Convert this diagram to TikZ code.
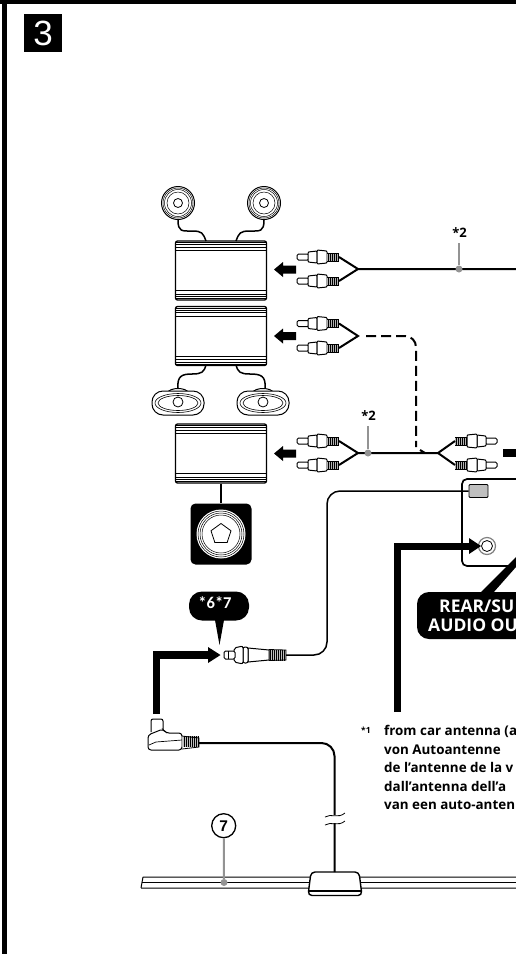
\documentclass[tikz,border=0pt]{standalone}
\usepackage{fontspec}
\setmainfont{Open Sans}
\newfontfamily\badgefont{Liberation Sans}
\newfontfamily\calloutfont{Carlito}
\usepackage{tikz}
\usetikzlibrary{calc, positioning, shapes}
\tikzstyle{cable}=[line width=2pt]
\tikzstyle{thin cable}=[line width=1.5pt]
\tikzstyle{leader}=[gray!85,line width=2pt]
\tikzstyle{leader dot}=[circle,fill=gray!85,minimum size=7pt,inner sep=0pt]
\tikzstyle{amp}=[draw,line width=1.3pt,rounded corners=2pt,fill=white,minimum width=91pt,minimum height=59pt,inner sep=0pt]
\tikzstyle{stripe}=[line width=0.5pt]
\tikzstyle{ring}=[circle,draw,line width=0.5pt,inner sep=0pt]
\tikzstyle{part}=[draw,line width=1pt,fill=white]
\tikzstyle{rib}=[line width=0.4pt]
\tikzstyle{note}=[anchor=base west,font=\fontsize{13.4}{15}\selectfont\bfseries,inner sep=0pt]
\tikzstyle{rear note}=[anchor=base west,text=white,font=\fontsize{17.5}{19}\selectfont\bfseries,inner sep=0pt]
\tikzstyle{cable note}=[font=\fontsize{13}{14}\selectfont\bfseries,inner sep=0pt]
\tikzstyle{big arrow}=[line width=7.5pt]

% one amplifier box with its stripes
\newcommand{\ampbox}[2]{
	\node[amp] (#1) at (#2) {};
	\foreach \off in {2,4.3,6.7,10.3} {
		\draw[stripe] ($(#1.north west)+(0,\off)$) -- ($(#1.north east)+(0,\off)$);
		\draw[stripe] ($(#1.south west)+(0,-\off)$) -- ($(#1.south east)+(0,-\off)$);
	}
}

% one cinch plug, pin at the given point; #3 is 1 (pin left) or -1 (pin right)
\newcommand{\rcaplug}[3]{
	\begin{scope}[shift={(#2)},xscale=#3]
		\draw[part,rounded corners=1.5pt] (0,-3) -- (12,-3) -- (12,3) -- (0,3) -- cycle;
		\draw[part,rounded corners=1pt] (11,-5) -- (20,-6) -- (20,6) -- (11,5) -- cycle;
		\draw[part,rounded corners=1pt] (20,-7) -- (30,-6) -- (30,6) -- (20,7) -- cycle;
		\fill[gray!60] (30,-4) rectangle (42,4);
		\foreach \rib in {31,33,...,41}
		\draw[rib] (\rib,-4) -- (\rib,4);
		\draw[line width=0.8pt] (30,-4) -- (42,-4) (30,4) -- (42,4);
		\coordinate (#1) at (42,0);
	\end{scope}
}

\begin{document}
\begin{tikzpicture}[x=1pt,y=-1pt]
	\useasboundingbox (0,0) rectangle (516,954);

	% Draw the frame and the step number
	\fill (2,0) rectangle (7,954);
	\fill (0,0) rectangle (516,4);
	\node[fill=black,minimum size=38pt,inner sep=0pt] (step-no) at (43,33) {\color{white}\badgefont\fontsize{35}{36}\selectfont 3};

	% Draw the amplifiers
	\ampbox{amp-1}{221,270.5}
	\ampbox{amp-2}{221,336}
	\ampbox{amp-3}{221,453.5}

	% Draw the round speakers
	\foreach \name / \x in {1/178,2/264} {
		\node[circle,draw,line width=1pt,minimum size=33pt,inner sep=0pt] (round-\name) at (\x,203) {};
		\node[ring,minimum size=30pt] (round-in-\name) at (\x,203) {};
		\node[ring,minimum size=27pt] (round-mid-\name) at (\x,203) {};
		\node[ring,minimum size=22pt] (round-cone-\name) at (\x,203) {};
		\node[circle,draw,line width=0.8pt,minimum size=9pt,inner sep=0pt] (round-cap-\name) at (\x,203) {};
	}
	\draw[thin cable] (round-1.south) .. controls (178,232) and (182,231) .. (192,231) .. controls (202,231) and (203,233) .. (206,241);
	\draw[thin cable] (round-2.south) .. controls (264,232) and (260,231) .. (250,231) .. controls (240,231) and (239,233) .. (236,241);

	% Draw the oval speakers
	\foreach \name / \x in {1/178,2/263} {
		\draw[line width=1pt,fill=white] (\x-11,393) .. controls (\x-8,387) and (\x+8,387) .. (\x+11,393);
		\node[draw,line width=1pt,rounded corners=11pt,minimum width=52pt,minimum height=24pt,inner sep=0pt,fill=white] (oval-\name) at (\x,403) {};
		\node[ellipse,draw,line width=0.6pt,minimum width=46pt,minimum height=19pt,inner sep=0pt] (oval-in-\name) at (\x,403) {};
		\node[ellipse,draw,line width=0.6pt,minimum width=40pt,minimum height=15pt,inner sep=0pt] (oval-mid-\name) at (\x,403) {};
		\node[circle,draw,line width=0.8pt,minimum size=10pt,inner sep=0pt,fill=white] (oval-cap-\name) at (\x,402) {};
	}
	\draw[thin cable] (178,388) .. controls (177,376) and (182,374) .. (192,374) .. controls (202,374) and (204,372) .. (206,365);
	\draw[thin cable] (265,388) .. controls (266,376) and (261,374) .. (250,374) .. controls (240,374) and (238,372) .. (236,365);

	% Draw the subwoofer
	\node[fill=black,rounded corners=5pt,minimum size=61pt,inner sep=0pt] (sub) at (221,534) {};
	\draw[thin cable] (amp-3.south) -- (sub.north);
	\node[circle,fill=white,minimum size=49pt,inner sep=0pt] (sub-rim) at (221,534) {};
	\node[ring,minimum size=46pt] (sub-ring-1) at (221,534) {};
	\node[ring,minimum size=42pt] (sub-ring-2) at (221,534) {};
	\node[ring,minimum size=38pt] (sub-ring-3) at (221,534) {};
	\node[regular polygon,regular polygon sides=5,draw,line width=0.8pt,minimum size=21pt,inner sep=0pt] (sub-cap) at (221,534) {};

	% Draw the arrows into the amplifiers
	\foreach \name / \y in {1/269.5,2/336,3/453.5} {
		\coordinate (tail-\name) at (296,\y);
		\coordinate (head-\name) at (274,\y);
		\fill (tail-\name) -- ++(0,-4) -- ++(-13,0) -- ++(0,-3.5) -- (head-\name) -- ++(9,7.5) -- ++(0,-3.5) -- ++(13,0) -- cycle;
	}

	% Draw the plugs on the amplifiers
	\rcaplug{rear-a}{297,257}{1}
	\rcaplug{rear-b}{297,281}{1}
	\rcaplug{front-a}{297,323.5}{1}
	\rcaplug{front-b}{297,348}{1}
	\rcaplug{sub-a}{297,441}{1}
	\rcaplug{sub-b}{297,465}{1}
	\rcaplug{out-a}{497,441}{-1}
	\rcaplug{out-b}{497,465}{-1}

	\coordinate (rear-y) at (358,269);
	\coordinate (front-y) at (358,336);
	\coordinate (sub-y) at (358,453);
	\coordinate (out-y) at (438,453);
	\coordinate (rear-end) at (516,269);
	\coordinate (front-start) at (366,336);
	\coordinate (front-bend) at (416,336);
	\coordinate (front-end) at (416,447);

	% Connect the plugs
	\draw[cable] (rear-a) -- (rear-y) -- (rear-b) (rear-y) -- (rear-end);
	\draw[cable] (front-a) -- (front-y) -- (front-b);
	\draw[cable] (sub-a) -- (sub-y) -- (sub-b) (sub-y) -- (out-y);
	\draw[cable] (out-a) -- (out-y) -- (out-b);
	\draw[cable,dash pattern=on 10pt off 5pt,rounded corners=11pt] (front-start) -- (front-bend) -- (front-end);
	\draw[cable] (420,450) -- (425,453);
	\fill (503,449) rectangle (516,457);

	% Annotate the cables
	\node[leader dot] (dot-1) at (459,269) {};
	\node[cable note] (note-1) at (459.5,233) {*2};
	\draw[leader] (459,243) -- (dot-1);
	\node[leader dot] (dot-2) at (368,453) {};
	\node[cable note] (note-2) at (368.5,416) {*2};
	\draw[leader] (368,426) -- (dot-2);

	% Draw the head unit
	\draw[line width=1.7pt,rounded corners=5pt] (530,479) -- (462,479) -- (462,566) -- (530,566);
	\node[draw,line width=0.8pt,fill=gray!50,rounded corners=1pt,minimum width=19pt,minimum height=13pt,inner sep=0pt] (ant-in) at (478.5,491) {};
	\node[circle,draw=gray,line width=1.2pt,minimum size=17pt,inner sep=0pt,fill=white] (jack) at (487,546) {};
	\node[circle,draw,line width=0.8pt,minimum size=11pt,inner sep=0pt] (jack-in) at (487,546) {};

	% Draw the rear out callout
	\fill (480,593) -- (516,557) -- (516,567) -- (493,593) -- cycle;
	\path[fill=black,rounded corners=12pt] (530,592) -- (417,592) -- (417,639) -- (530,639) -- cycle;
	\node[rear note] (rear-1) at (439,612.3) {REAR/SU};
	\node[rear note] (rear-2) at (428,631.7) {AUDIO OU};

	% Draw the arrow into the jack
	\coordinate (jack-tail) at (397.5,712);
	\coordinate (jack-bend) at (397.5,546.5);
	\coordinate (jack-tip) at (481,546);
	\draw[big arrow,line join=miter] (jack-tail) -- (jack-bend) -- (470,546.5);
	\fill (469,538) -- (jack-tip) -- (469,554) -- cycle;

	% Draw the antenna plug and its cable
	\coordinate (ant-plug) at (286,655);
	\draw[thin cable,rounded corners=13pt] (ant-plug) -- (327,655) -- (327,491) -- (ant-in.west);
	\fill[gray!50] (269,649.5) rectangle (286,660.5);
	\foreach \rib in {270,272,...,284}
	\draw[rib] (\rib,649.5) -- (\rib,660.5);
	\draw[line width=0.8pt] (269,649.5) -- (286,650) -- (286,660) -- (269,660.5);
	\draw[part] (248,648) -- (269,650) -- (269,660) -- (248,662) -- cycle;
	\draw[part,rounded corners=2pt] (243,647) -- (248,647) -- (248,663) -- (243,663) -- cycle;
	\draw[part,rounded corners=2pt] (234,648) -- (243,646) -- (243,664) -- (234,662) -- cycle;
	\draw[part,rounded corners=1.5pt] (224,651) -- (235,651) -- (235,659) -- (224,659) -- cycle;
	\draw[line width=0.7pt] (228,651) -- (228,659);

	% Draw the arrow into the antenna plug
	\coordinate (fm-tail) at (156.5,714);
	\coordinate (fm-bend) at (156.5,655);
	\coordinate (fm-tip) at (220.5,655);
	\draw[big arrow,line join=miter] (fm-tail) -- (fm-bend) -- (209,655);
	\fill (208,647) -- (fm-tip) -- (208,663) -- cycle;

	% Draw the *6*7 callout
	\fill (215,620) -- (219.5,645) -- (224,620) -- cycle;
	\node[fill=black,rounded corners=13pt,minimum width=60pt,minimum height=29pt,inner sep=0pt] (fm-note) at (219,606) {};
	\node[text=white,font=\calloutfont\fontsize{16.5}{17}\selectfont\bfseries,inner sep=0pt] (fm-text) at (215,602.5) {*6*7};

	% Draw the angled plug of the aerial
	\draw[part,rounded corners=2pt] (151,732) -- (151,719) -- (163,719) -- (163,732);
	\draw[part,rounded corners=3pt] (148,735) -- (163,729) -- (166,733) -- (182,733) -- (182,750) -- (148,750) -- cycle;
	\draw[line width=0.7pt] (149,745) -- (156,742) -- (182,740);
	\fill[gray!50] (182,736) rectangle (199,747);
	\foreach \rib in {184,186,...,198}
	\draw[rib] (\rib,736) -- (\rib,747);
	\draw[line width=0.8pt] (182,736) -- (199,738) -- (199,747) -- (182,749);
	\coordinate (fm-plug) at (199,743);

	% Draw the aerial rod and its box
	\draw[line width=1pt] (143,877) -- (516,877) (141,888) -- (516,888) (143,877) -- (141,888);
	\draw[line width=1pt] (142,882.5) -- (516,882.5);
	\draw[line width=1.4pt,fill=white,rounded corners=4pt] (311,872) -- (359,872) -- (362,895.5) -- (308,895.5) -- cycle;
	\draw[line width=1.1pt] (309,891) -- (361,891);
	\coordinate (fm-box) at (334.5,872);
	\draw[cable,rounded corners=13pt] (fm-plug) -- (334.5,743) -- (fm-box);

	% Draw the break in the cable
	\fill[white] (325,815) rectangle (345,823);
	\draw[line width=0.8pt] (325,817) .. controls (331,813) and (338,819) .. (345,813);
	\draw[line width=0.8pt] (325,825) .. controls (331,821) and (338,827) .. (345,821);

	% Annotate the aerial
	\node[circle,draw,line width=1.3pt,minimum size=24pt,inner sep=0pt,font=\badgefont\fontsize{15.5}{17}\selectfont\bfseries] (rod-no) at (223.7,825.7) {7};
	\node[leader dot] (rod-dot) at (224,882.5) {};
	\draw[leader] (rod-no) -- (rod-dot);

	% Write the footnote
	\node[note,font=\fontsize{8.5}{9}\selectfont\bfseries] (fn-mark) at (361,733) {*1};
	\node[note] (fn-1) at (384,735.5) {from car antenna (a};
	\node[note] (fn-2) at (384,754) {von Autoantenne};
	\node[note] (fn-3) at (384,772.5) {de l’antenne de la v};
	\node[note] (fn-4) at (384,791) {dall’antenna dell’a};
	\node[note] (fn-5) at (384,809.5) {van een auto-anten};
\end{tikzpicture}
\end{document}
